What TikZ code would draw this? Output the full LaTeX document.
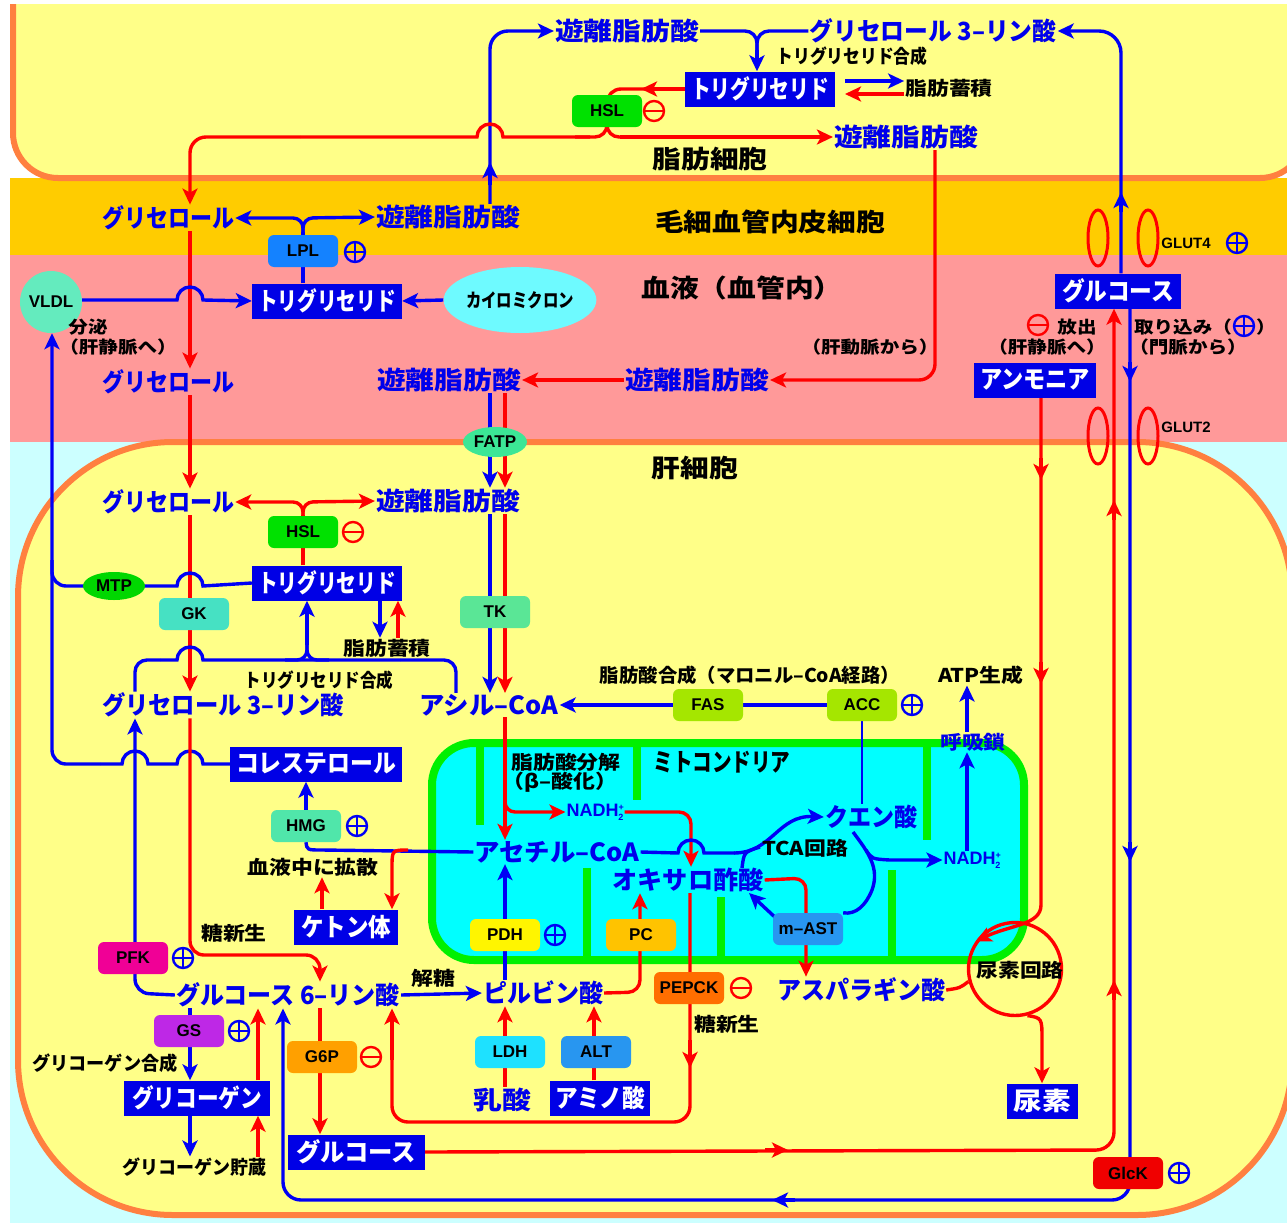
\documentclass[tikz,border=0pt]{standalone}
\usepackage{fontspec}
\usepackage{graphicx}
\setmainfont{Liberation Sans}
\newfontfamily\jp[FakeStretch=1.15]{Noto Sans CJK JP}
\usetikzlibrary{arrows.meta,shapes.geometric}
\pgfdeclarelayer{back}
\pgfdeclarelayer{lines}
\pgfsetlayers{back,lines,main}
\definecolor{tblue}{RGB}{0,0,235}
\definecolor{lblue}{RGB}{0,0,245}
\definecolor{boxblue}{RGB}{0,0,230}
\definecolor{lred}{RGB}{255,0,0}
\definecolor{cellyellow}{RGB}{255,255,136}
\definecolor{membrane}{RGB}{255,128,64}
\definecolor{endocol}{RGB}{255,204,0}
\definecolor{bloodcol}{RGB}{255,153,153}
\definecolor{outcyan}{RGB}{204,255,255}
\definecolor{mitocyan}{RGB}{0,255,255}
\definecolor{mitogreen}{RGB}{0,240,0}
\definecolor{hslcol}{RGB}{0,225,0}
\definecolor{lplcol}{RGB}{20,130,255}
\definecolor{mtpcol}{RGB}{0,215,0}
\definecolor{fatpcol}{RGB}{60,230,150}
\definecolor{gkcol}{RGB}{70,225,195}
\definecolor{tkcol}{RGB}{90,230,150}
\definecolor{fascol}{RGB}{165,230,0}
\definecolor{hmgcol}{RGB}{80,230,170}
\definecolor{pdhcol}{RGB}{255,245,0}
\definecolor{pccol}{RGB}{255,195,0}
\definecolor{astcol}{RGB}{40,150,240}
\definecolor{pepckcol}{RGB}{255,110,0}
\definecolor{pfkcol}{RGB}{240,0,150}
\definecolor{gscol}{RGB}{190,40,230}
\definecolor{gsixcol}{RGB}{255,160,0}
\definecolor{ldhcol}{RGB}{30,225,255}
\definecolor{altcol}{RGB}{40,150,240}
\definecolor{glckcol}{RGB}{240,0,0}
\definecolor{vldlcol}{RGB}{100,235,190}
\definecolor{chylocol}{RGB}{110,250,255}
\newcommand\fL{\jp\bfseries\fontsize{25}{28}\selectfont}
\newcommand\fN{\jp\bfseries\fontsize{19}{21}\selectfont}
\newcommand\fS{\jp\bfseries\fontsize{17}{19}\selectfont}
\newcommand\fE{\bfseries\fontsize{17}{19}\selectfont}
\newcommand\fG{\bfseries\fontsize{15}{17}\selectfont}
\newcommand\hw[2]{\resizebox{#1pt}{\height}{#2}}
\newcommand\nadhtxt{NADH\raisebox{6pt}{\fontsize{9}{9}\selectfont +}\kern-5.5pt\raisebox{-4pt}{\fontsize{9}{9}\selectfont 2}}
\tikzset{
 tlbl/.style={text=tblue,font=\fL,inner sep=1pt},
 tbox/.style={fill=boxblue,text=white,font=\fL,inner sep=3pt,minimum height=35pt},
 tnote/.style={text=black,font=\fN,inner sep=1pt},
 tsnote/.style={text=black,font=\fS,inner sep=1pt},
 treg/.style={text=black,font=\fL,inner sep=1pt},
 tenz/.style={rectangle,rounded corners=6pt,minimum width=70pt,minimum height=32pt,inner sep=2pt,font=\fE,text=black},
 posreg/.style={circle,draw=lblue,line width=2.4pt,minimum size=20pt,inner sep=0pt,
   path picture={\draw[lblue,line width=2.2pt] (path picture bounding box.north) -- (path picture bounding box.south) (path picture bounding box.west) -- (path picture bounding box.east);}},
 negreg/.style={circle,draw=lred,line width=2.4pt,minimum size=20pt,inner sep=0pt,
   path picture={\draw[lred,line width=2.2pt] (path picture bounding box.west) -- (path picture bounding box.east);}},
 bl/.style={draw=lblue,line width=3.4pt},
 rd/.style={draw=lred,line width=3.4pt},
 glut/.style={ellipse,draw=lred,line width=3pt,minimum width=20pt,minimum height=56pt,inner sep=0pt},
}
\begin{document}
\begin{tikzpicture}[x=1pt,y=-1pt,>={Stealth[length=16pt,width=15pt,inset=4pt]}]
\useasboundingbox (0,0) rectangle (1287,1223);

% ---------------- nodes: adipocyte
\node[tlbl] (ffaT) at (627,31) {遊離脂肪酸};
\node[tlbl] (g3pT) at (933,31) {\hw{247}{グリセロール 3–リン酸}};
\node[tnote] (tgsynT) at (852,56) {\hw{151}{トリグリセリド合成}};
\node[tbox,minimum width=150pt] (tgA) at (760,89) {\hw{138}{トリグリセリド}};
\node[tnote] (fatA) at (949,88) {脂肪蓄積};
\node[tenz,fill=hslcol] (hslA) at (607,111) {HSL};
\node[negreg] (nA) at (654,111) {};
\node[tlbl] (ffaA) at (906,137) {遊離脂肪酸};
\node[treg] (adip) at (710,159) {脂肪細胞};
% endothelium
\node[tlbl] (glyE) at (168,218) {\hw{132}{グリセロール}};
\node[tlbl] (ffaE) at (448,217) {遊離脂肪酸};
\node[treg] (endo) at (770,222) {毛細血管内皮細胞};
\node[tenz,fill=lplcol] (lpl) at (303,251) {LPL};
\node[posreg] (pLPL) at (355,252) {};
\node[glut] (gl4a) at (1098,238) {};
\node[glut] (gl4b) at (1148,238) {};
\node[font=\fG,inner sep=1pt] (glut4) at (1186,243) {GLUT4};
\node[posreg] (pG4) at (1237,243) {};
% blood
\node[circle,fill=vldlcol,minimum size=62pt,inner sep=0pt,font=\fE] (vldl) at (51,302) {VLDL};
\node[tsnote] (secr) at (88,327) {分泌};
\node[tsnote] (hv1) at (118,347) {（肝静脈へ）};
\node[tbox,minimum width=150pt] (tgB) at (327,301) {\hw{138}{トリグリセリド}};
\node[ellipse,fill=chylocol,minimum width=122pt,minimum height=66pt,inner sep=0pt,font=\fN] (chylo) at (520,300) {\hw{108}{カイロミクロン}};
\node[treg] (bloodlbl) at (742,288) {血液（血管内）};
\node[tlbl] (glyB) at (168,382) {\hw{132}{グリセロール}};
\node[tlbl] (ffaB1) at (449,380) {遊離脂肪酸};
\node[tlbl] (ffaB2) at (697,380) {遊離脂肪酸};
\node[tsnote] (ha) at (870,347) {（肝動脈から）};
\node[tbox,minimum width=126pt] (glcB) at (1118,291) {\hw{112}{グルコース}};
\node[negreg] (nRel) at (1038,325) {};
\node[tsnote] (rel) at (1077,327) {放出};
\node[tsnote] (hv2) at (1047,347) {（肝静脈へ）};
\node[tsnote] (upt) at (1183,327) {取り込み（};
\node[posreg] (pUpt) at (1244,326) {};
\node[tsnote] (uptc) at (1266,327) {）};
\node[tsnote] (pv) at (1188,347) {（門脈から）};
\node[tbox,minimum width=122pt] (nh3) at (1035,380) {\hw{110}{アンモニア}};
\node[glut] (gl2a) at (1098,436) {};
\node[glut] (gl2b) at (1148,436) {};
\node[font=\fG,inner sep=1pt] (glut2) at (1186,427) {GLUT2};
\node[ellipse,fill=fatpcol,minimum width=64pt,minimum height=30pt,inner sep=0pt,font=\fE] (fatp) at (495,442) {FATP};
% hepatocyte
\node[treg] (hep) at (695,468) {肝細胞};
\node[tlbl] (glyH) at (168,502) {\hw{132}{グリセロール}};
\node[tlbl] (ffaH) at (448,501) {遊離脂肪酸};
\node[tenz,fill=hslcol] (hslH) at (303,532) {HSL};
\node[negreg] (nH) at (353,532) {};
\node[ellipse,fill=mtpcol,minimum width=62pt,minimum height=28pt,inner sep=0pt,font=\fE] (mtp) at (114,586) {MTP};
\node[tbox,minimum width=150pt] (tgH) at (327,583) {\hw{138}{トリグリセリド}};
\node[tenz,fill=gkcol] (gk) at (194,614) {GK};
\node[tenz,fill=tkcol] (tk) at (495,612) {TK};
\node[tnote] (fatH) at (387,648) {脂肪蓄積};
\node[tnote] (tgsynH) at (319,680) {\hw{149}{トリグリセリド合成}};
\node[tlbl] (g3pH) at (223,705) {\hw{242}{グリセロール 3–リン酸}};
\node[tlbl] (acyl) at (489,705) {\hw{139}{アシル–CoA}};
\node[tnote] (fasyn) at (750,675) {\hw{300}{脂肪酸合成（マロニル–CoA経路）}};
\node[tenz,fill=fascol] (fas) at (708,705) {FAS};
\node[tenz,fill=fascol] (acc) at (862,705) {ACC};
\node[posreg] (pACC) at (912,705) {};
\node[tnote] (atp) at (981,675) {ATP生成};
\node[text=tblue,font=\fN,inner sep=1pt] (resp) at (973,742) {呼吸鎖};
\node[tbox,minimum width=172pt] (chol) at (316,764) {\hw{160}{コレステロール}};
\node[tenz,fill=hmgcol] (hmg) at (306,826) {HMG};
\node[posreg] (pHMG) at (357,826) {};
\node[tnote] (diff) at (313,867) {血液中に拡散};
\node[tbox,minimum width=104pt] (ket) at (346,927) {\hw{90}{ケトン体}};
\node[tnote] (beta1) at (566,762) {脂肪酸分解};
\node[tnote] (beta2) at (560,782) {（β–酸化）};
\node[treg] (mitolbl) at (722,762) {\hw{137}{ミトコンドリア}};
\node[text=tblue,font=\bfseries\fontsize{18}{20}\selectfont,inner sep=1pt] (nadh1) at (595,812) {\nadhtxt};
\node[tlbl] (acetyl) at (557,852) {\hw{165}{アセチル–CoA}};
\node[tlbl] (citrate) at (871,817) {\hw{92}{クエン酸}};
\node[tnote] (tca) at (805,848) {TCA回路};
\node[text=tblue,font=\bfseries\fontsize{18}{20}\selectfont,inner sep=1pt] (nadh2) at (972,860) {\nadhtxt};
\node[tlbl] (oaa) at (688,880) {\hw{151}{オキサロ酢酸}};
\node[tenz,fill=astcol] (mast) at (808,929) {m–AST};
\node[tenz,fill=pdhcol] (pdh) at (505,935) {PDH};
\node[posreg] (pPDH) at (555,935) {};
\node[tenz,fill=pccol] (pc) at (641,935) {PC};
\node[tnote] (gng1) at (234,933) {糖新生};
\node[tenz,fill=pfkcol] (pfk) at (133,958) {PFK};
\node[posreg] (pPFK) at (183,958) {};
\node[tlbl] (g6p) at (288,995) {\hw{224}{グルコース 6–リン酸}};
\node[tnote] (glyc) at (433,978) {解糖};
\node[tlbl] (pyr) at (543,993) {\hw{120}{ピルビン酸}};
\node[tenz,fill=pepckcol] (pepck) at (689,988) {PEPCK};
\node[negreg] (nPEP) at (741,988) {};
\node[tnote] (gng2) at (727,1024) {糖新生};
\node[tlbl] (asp) at (861,990) {\hw{168}{アスパラギン酸}};
\node[circle,draw=lred,line width=3.4pt,minimum size=93pt,inner sep=0pt] (urea) at (1015,969) {};
\node[tnote] (urealbl) at (1020,970) {尿素回路};
\node[tenz,fill=gscol] (gs) at (189,1031) {GS};
\node[posreg] (pGS) at (239,1031) {};
\node[tnote] (glysyn) at (105,1063) {\hw{145}{グリコーゲン合成}};
\node[tenz,fill=gsixcol] (gsix) at (322,1057) {G6P};
\node[negreg] (nG6P) at (371,1057) {};
\node[tenz,fill=ldhcol] (ldh) at (510,1052) {LDH};
\node[tenz,fill=altcol] (alt) at (596,1052) {ALT};
\node[tbox,minimum width=146pt] (glycogen) at (197,1098) {\hw{130}{グリコーゲン}};
\node[tlbl] (lact) at (502,1100) {乳酸};
\node[tbox,minimum width=100pt] (amino) at (600,1098) {\hw{90}{アミノ酸}};
\node[tbox,minimum width=71pt] (urea2) at (1042,1101) {尿素};
\node[tnote] (glystore) at (194,1167) {\hw{144}{グリコーゲン貯蔵}};
\node[tbox,minimum width=137pt] (glcH) at (356,1152) {\hw{120}{グルコース}};
\node[tenz,fill=glckcol] (glck) at (1128,1173) {GlcK};
\node[posreg] (pGlcK) at (1179,1173) {};

% ---------------- connectors
\begin{pgfonlayer}{lines}
% adipocyte
\draw[bl,->,rounded corners=18pt] (ffaE.north -| 490,0) -- (490,31) -- (ffaT.west);
\draw[bl,->] (490,185) -- (490,162);
\draw[rd,rounded corners=14pt] (tgA.west) -- (607,89) -- (607,105);
\draw[rd,->] (tgA.west) -- (641,89);
\draw[rd,rounded corners=12pt] (607,115) -- (607,137) -- (575,137);
\draw[rd,rounded corners=12pt] (607,115) -- (607,137) -- (640,137);
\draw[rd] (590,137) -- (503,137) arc[start angle=360,end angle=180,radius=13] -- (300,137);
\draw[rd,->,rounded corners=16pt] (300,137) -- (190,137) -- (glyE.north -| 190,0);
\draw[rd,->] (620,137) -- (ffaA.west);
\draw[bl,rounded corners=12pt] (ffaT.east) -- (757,31) -- (757,55);
\draw[bl,rounded corners=12pt] (g3pT.west) -- (757,31) -- (757,55);
\draw[bl,->] (757,50) -- (tgA.north -| 757,0);
\draw[bl,->] (845,81) -- (fatA.west |- 0,81);
\draw[rd,->] (fatA.west |- 0,94) -- (845,94);
\draw[bl,->,rounded corners=22pt] (glcB.north -| 1121,0) -- (1121,31) -- (g3pT.east);
\draw[bl,->] (1121,212) -- (1121,192);
\draw[rd,->,rounded corners=16pt] (ffaA.south -| 935,0) -- (935,380) -- (ffaB2.east);
% endothelium / blood
\draw[bl] (tgB.north -| 303,0) -- (303,232);
\draw[bl,->,rounded corners=10pt] (303,240) -- (303,218) -- (glyE.east);
\draw[bl,->,rounded corners=10pt] (303,240) -- (303,218) -- (ffaE.west);
\draw[rd,->] (glyE.south -| 190,0) -- (glyB.north -| 190,0);
\draw[bl,->] (vldl.east |- 0,300) -- (177,300) arc[start angle=180,end angle=360,radius=13] -- (tgB.west);
\draw[bl,->] (chylo.west) -- (tgB.east);
\draw[rd,->] (glyB.south -| 190,0) -- (glyH.north -| 190,0);
\draw[rd,->] (ffaB2.west) -- (ffaB1.east);
\draw[bl,->] (ffaB1.south -| 490,0) -- (ffaH.north -| 490,0);
\draw[rd,->] (ffaB1.south -| 505,0) -- (ffaH.north -| 505,0);
% hepatocyte: lipids
\draw[rd] (tgH.north -| 303,0) -- (303,515);
\draw[rd,->,rounded corners=10pt] (303,522) -- (303,502) -- (glyH.east);
\draw[rd,->,rounded corners=10pt] (303,522) -- (303,502) -- (ffaH.west);
\draw[rd,->] (glyH.south -| 190,0) -- (g3pH.north -| 190,0);
\draw[bl] (tgH.west) -- (203,586) arc[start angle=360,end angle=180,radius=13] -- (100,586);
\draw[bl,rounded corners=14pt] (100,586) -- (52,586) -- (52,560);
\draw[bl] (chol.west) -- (203,764) arc[start angle=360,end angle=180,radius=13] -- (148,764) arc[start angle=360,end angle=180,radius=13] -- (100,764);
\draw[bl,->,rounded corners=14pt] (100,764) -- (52,764) -- (vldl.south -| 52,0);
\draw[bl,rounded corners=12pt] (g3pH.north -| 135,0) -- (135,660) -- (160,660);
\draw[bl] (160,660) -- (177,660) arc[start angle=180,end angle=360,radius=13] -- (400,660);
\draw[bl,rounded corners=12pt] (400,660) -- (456,660) -- (acyl.north -| 456,0);
\draw[bl,rounded corners=10pt] (285,660) -- (307,660) -- (307,640);
\draw[bl,rounded corners=10pt] (329,660) -- (307,660) -- (307,640);
\draw[bl,->] (307,645) -- (tgH.south -| 307,0);
\draw[bl,->] (ffaH.south -| 490,0) -- (acyl.north -| 490,0);
\draw[rd,->] (ffaH.south -| 505,0) -- (acyl.north -| 505,0);
\draw[bl,->] (tgH.south -| 380,0) -- (fatH.north -| 380,0);
\draw[rd,->] (fatH.north -| 398,0) -- (tgH.south -| 398,0);
\draw[bl] (acc.west) -- (fas.east);
\draw[bl,->] (fas.west) -- (acyl.east);
\draw[bl,line width=2.6pt] (acc.south) -- (acc.south |- citrate.north);
% mitochondria
\draw[rd,->] (acyl.south -| 505,0) -- (acetyl.north -| 505,0);
\draw[rd,->,rounded corners=10pt] (505,790) -- (505,812) -- (nadh1.west);
\draw[rd,->,rounded corners=12pt] (nadh1.east) -- (691,812) -- (oaa.north -| 691,0);
\draw[bl] (acetyl.west) -- (322,850) .. controls (307,850) .. (hmg.south);
\draw[bl,->] (hmg.north) -- (chol.south -| hmg.north);
\draw[rd,->] (408,850) .. controls (392,850) .. (392,868) -- (ket.north -| 392,0);
\draw[rd,->] (ket.north -| 322,0) -- (diff.south -| 322,0);
\draw[bl] (acetyl.east) -- (678,853) arc[start angle=180,end angle=360,radius=13] -- (735,853);
\draw[bl,->] (734,853) .. controls (772,853) and (778,815) .. (citrate.west);
\draw[bl] (742,868) .. controls (744,852) .. (760,847);
\draw[bl] (853,832) .. controls (868,852) and (880,868) .. (872,890) .. controls (866,905) and (856,915) .. (mast.north east);
\draw[bl,->] (866,850) .. controls (872,859) .. (890,860) -- (nadh2.west);
\draw[bl,->] (778,920) -- (749,893);
\draw[rd,->,rounded corners=12pt] (oaa.east) -- (806,878) -- (asp.north -| 806,0);
\draw[rd] (asp.east) .. controls (960,988) .. (urea.195);
\draw[rd,->] (nh3.south -| 1041,0) -- (1041,905) .. controls (1041,925) and (1010,925) .. (urea.145);
\draw[rd,->] (1041,458) -- (1041,480);
\draw[rd,->] (1041,662) -- (1041,684);
\draw[rd,->] (urea.-75) .. controls (1042,1018) .. (1042,1040) -- (urea2.north -| 1042,0);
\draw[bl,->] (nadh2.north -| 967,0) -- (resp.south -| 967,0);
\draw[bl,->] (resp.north -| 967,0) -- (atp.south -| 967,0);
% carbohydrates
\draw[bl,->] (pyr.north -| 505,0) -- (acetyl.south -| 505,0);
\draw[rd,->,rounded corners=12pt] (pyr.east) -- (640,992) -- (oaa.south -| 640,0);
\draw[rd,rounded corners=16pt] (oaa.south -| 690,0) -- (690,1122) -- (392,1122) -- (392,1050);
\draw[rd,->] (392,1060) -- (g6p.south -| 392,0);
\draw[rd,->] (690,1040) -- (690,1068);
\draw[bl,->,rounded corners=14pt] (g6p.west) -- (135,993) -- (g3pH.south -| 135,0);
\draw[rd,->,rounded corners=14pt] (g3pH.south -| 190,0) -- (190,955) -- (320,955) -- (g6p.north -| 320,0);
\draw[bl,->] (g6p.east) -- (pyr.west);
\draw[rd,->] (lact.north -| 505,0) -- (pyr.south -| 505,0);
\draw[rd,->] (amino.north -| 594,0) -- (pyr.south -| 594,0);
\draw[bl,->] (g6p.south -| 190,0) -- (glycogen.north -| 190,0);
\draw[rd,->] (glycogen.north -| 258,0) -- (g6p.south -| 258,0);
\draw[bl,->] (glycogen.south -| 190,0) -- (glystore.north -| 190,0);
\draw[rd,->] (glystore.north -| 258,0) -- (glycogen.south -| 258,0);
\draw[rd,->] (g6p.south -| 320,0) -- (glcH.north -| 320,0);
\draw[bl,->,rounded corners=18pt] (glcB.south -| 1130,0) -- (1130,1200) -- (283,1200) -- (g6p.south -| 283,0);
\draw[bl,->] (1130,362) -- (1130,382);
\draw[bl,->] (1130,842) -- (1130,862);
\draw[bl,->] (795,1200) -- (772,1200);
\draw[rd,->,rounded corners=18pt] (glcH.east) -- (1114,1150) -- (glcB.south -| 1114,0);
\draw[rd,->] (765,1150) -- (788,1150);
\draw[rd,->] (1114,1000) -- (1114,980);
\draw[rd,->] (1114,520) -- (1114,500);
\end{pgfonlayer}

% ---------------- background regions
\begin{pgfonlayer}{back}
\fill[white] (0,0) rectangle (1287,1223);
\fill[outcyan] (10,440) rectangle (1287,1223);
\fill[bloodcol] (10,255) rectangle (1287,442);
\fill[endocol] (10,178) rectangle (1287,255);
\filldraw[fill=cellyellow,draw=membrane,line width=6pt,rounded corners=45pt] (13,-10) -- (13,178) -- (1305,178) -- (1305,-10);
\fill[white] (0,0) rectangle (1287,4);
\fill[white] (0,0) rectangle (9,1223);
\filldraw[fill=cellyellow,draw=membrane,line width=6pt,rounded corners=155pt] (18,442) rectangle (1292,1215);
\filldraw[fill=mitocyan,draw=mitogreen,line width=8pt,rounded corners=42pt] (432,743) rectangle (1024,960);
\draw[mitogreen,line width=8pt] (480,743) -- (480,825);
\draw[mitogreen,line width=8pt] (637,743) -- (637,800);
\draw[mitogreen,line width=8pt] (927,743) -- (927,840);
\draw[mitogreen,line width=8pt] (587,868) -- (587,960);
\draw[mitogreen,line width=8pt] (721,897) -- (721,960);
\draw[mitogreen,line width=8pt] (892,870) -- (892,960);
\end{pgfonlayer}
\end{tikzpicture}
\end{document}
